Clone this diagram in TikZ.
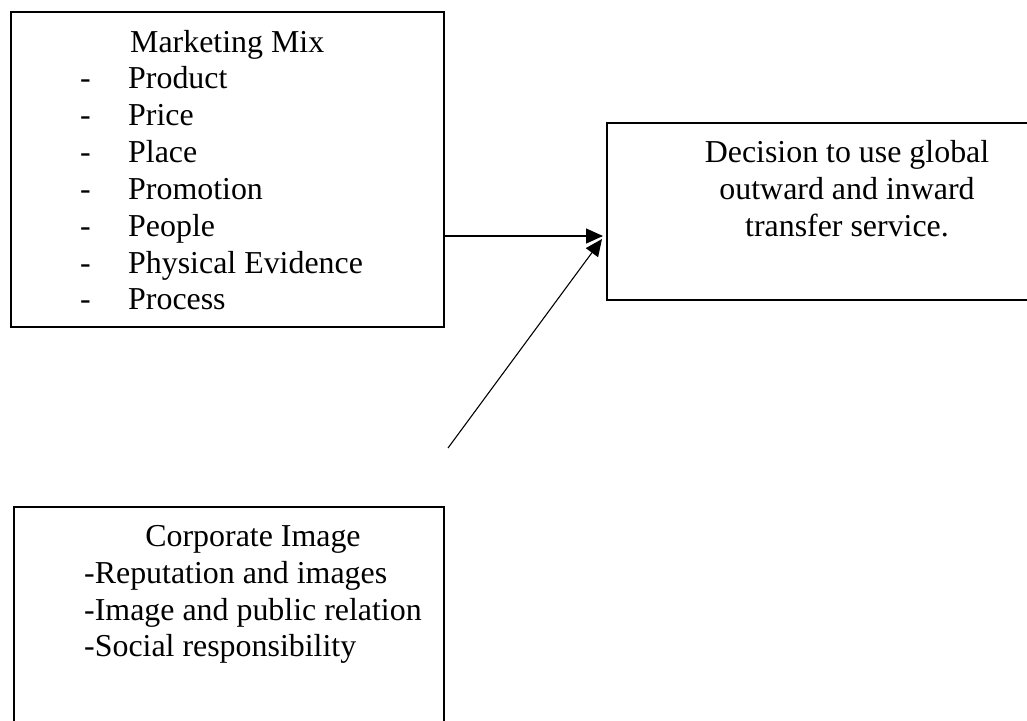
\documentclass[tikz,border=0pt]{standalone}
\usepackage{fontspec}
\setmainfont{Liberation Serif}
\usetikzlibrary{arrows.meta}
\begin{document}
\begin{tikzpicture}[x=1pt,y=-1pt,
  box/.style={draw,line width=1.6pt,rectangle,inner sep=0pt},
  txt/.style={inner sep=0pt,font=\fontsize{31.9}{36.7}\selectfont},
  link/.style={line width=1.1pt,-{Triangle[length=17pt,width=15pt]}}]
\useasboundingbox (0,0) rectangle (1027,720);
\clip (0,0) rectangle (1027,720);

% boxes (decision box and corporate image box run past the page edge)
\draw[box] (11,12) rectangle (444,327);
\draw[box] (607,123) rectangle (1060,300);
\draw[box] (14,507) rectangle (444,760);

% Marketing Mix
\node[txt,anchor=base west] (mmhead) at (130,52) {Marketing Mix};
\foreach \i/\t/\yy in {1/Product/88,2/Price/125,3/Place/162,4/Promotion/199,5/People/236,6/Physical Evidence/273,7/Process/309}{
  \node[txt,anchor=base west] (mmdash\i) at (80,\yy) {-};
  \node[txt,anchor=base west] (mmitem\i) at (128,\yy) {\t};
}

% Decision
\node[txt,anchor=base] (dec1) at (847,162.7) {Decision to use global};
\node[txt,anchor=base] (dec2) at (847,199.4) {outward and inward};
\node[txt,anchor=base] (dec3) at (847,236.1) {transfer service.};

% Corporate Image
\node[txt,anchor=base] (cihead) at (253,546.7) {Corporate Image};
\node[txt,anchor=base west] (ci1) at (84,583.4) {-Reputation and images};
\node[txt,anchor=base west] (ci2) at (84,620.1) {-Image and public relation};
\node[txt,anchor=base west] (ci3) at (84,656.8) {-Social responsibility};

% connectors
\coordinate (mmout) at (444,236);
\coordinate (decin) at (603,236);
\coordinate (ciout) at (448,448);
\coordinate (decin2) at (602,239);
\draw[link] (mmout) -- (decin);
\draw[link] (ciout) -- (decin2);
\end{tikzpicture}
\end{document}
